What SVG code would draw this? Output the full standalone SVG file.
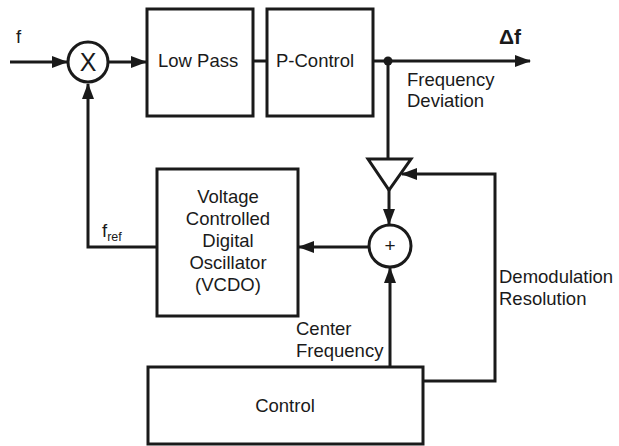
<svg xmlns="http://www.w3.org/2000/svg" width="619" height="446" viewBox="0 0 619 446">
<defs>
<marker id="ah" markerWidth="16" markerHeight="12" refX="15" refY="6" orient="auto" markerUnits="userSpaceOnUse">
<path d="M0,0 L16,6 L0,12 Z" fill="#1a1a1a"/>
</marker>
</defs>
<style>
.box{fill:#fff;stroke:#1a1a1a;stroke-width:3}
.ln{fill:none;stroke:#1a1a1a;stroke-width:3}
.arr{fill:none;stroke:#1a1a1a;stroke-width:3;marker-end:url(#ah)}
text{font-family:"Liberation Sans",Arial,sans-serif;font-size:18.5px;fill:#1a1a1a}
.c{text-anchor:middle}
</style>
<rect width="619" height="446" fill="#fff"/>
<g id="connectors">
<line class="arr" x1="10" y1="62" x2="67" y2="62"/>
<line class="arr" x1="109" y1="62" x2="146" y2="62"/>
<line class="ln" x1="253" y1="61" x2="267" y2="61"/>
<line class="arr" x1="373" y1="61" x2="530" y2="61"/>
<circle cx="388" cy="61" r="4.5" fill="#1a1a1a"/>
<line class="ln" x1="388" y1="61" x2="388" y2="159"/>
<line class="arr" x1="389" y1="190" x2="389" y2="224"/>
<line class="arr" x1="369" y1="247" x2="299" y2="247"/>
<line class="arr" x1="390" y1="367" x2="390" y2="268"/>
<polyline class="arr" points="423,381 495,381 495,174 402,174"/>
<polyline class="arr" points="157,247 88,247 88,84"/>
</g>
<g id="mixer">
<circle class="box" cx="88" cy="62" r="20"/>
<text class="c" x="88" y="71" style="font-size:25px">X</text>
</g>
<g id="lowpass">
<rect class="box" x="147" y="9" width="106" height="107"/>
<text x="158" y="67">Low Pass</text>
</g>
<g id="pcontrol">
<rect class="box" x="267" y="9" width="106" height="107"/>
<text x="276" y="67">P-Control</text>
</g>
<g id="gain">
<polygon class="box" points="368,159 411,159 389,190"/>
</g>
<g id="adder">
<circle class="box" cx="390" cy="246" r="21"/>
<text class="c" x="390" y="252" style="font-size:19px">+</text>
</g>
<g id="vcdo">
<rect class="box" x="157" y="169" width="141" height="147"/>
<text class="c" x="228" y="203">Voltage</text>
<text class="c" x="228" y="225">Controlled</text>
<text class="c" x="228" y="247">Digital</text>
<text class="c" x="228" y="269">Oscillator</text>
<text class="c" x="228" y="291">(VCDO)</text>
</g>
<g id="control">
<rect class="box" x="148" y="367" width="275" height="77"/>
<text class="c" x="285" y="412">Control</text>
</g>
<g id="labels">
<text x="16" y="43">f</text>
<text x="499" y="44" style="font-size:21px;font-weight:bold">Δf</text>
<text x="407" y="86">Frequency</text>
<text x="407" y="107">Deviation</text>
<text x="102" y="237">f<tspan dy="4" style="font-size:12.5px">ref</tspan></text>
<text x="499" y="283">Demodulation</text>
<text x="499" y="305">Resolution</text>
<text x="296" y="335">Center</text>
<text x="296" y="357">Frequency</text>
</g>
</svg>
